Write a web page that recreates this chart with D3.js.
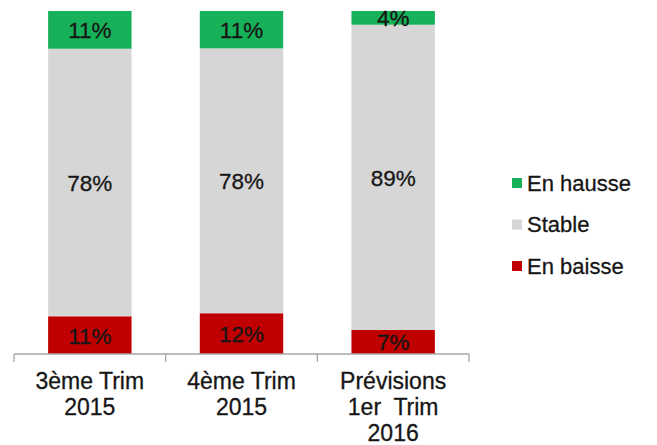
<!DOCTYPE html>
<html>
<head>
<meta charset="utf-8">
<script src="https://cdn.jsdelivr.net/npm/d3@7"></script>
<style>
  html, body { margin: 0; padding: 0; background: #fff; }
  svg { display: block; font-family: "Liberation Sans", Arial, sans-serif; }
</style>
</head>
<body>
<svg id="chart" width="657" height="445"></svg>
<script>
const categories = [["3ème Trim", "2015"], ["4ème Trim", "2015"], ["Prévisions", "1er  Trim", "2016"]];
const seriesNames = ["En baisse", "Stable", "En hausse"];
const enBaisse = [11, 12, 7];
const stable = [78, 78, 89];
const enHausse = [11, 11, 4];
const legendOrder = ["En hausse", "Stable", "En baisse"];
const colors = {"En hausse": "#16b158", "Stable": "#d6d6d6", "En baisse": "#c00000"};

const svg = d3.select("#chart");
const catKeys = categories.map(c => c.join(" "));
const rows = catKeys.map((k, i) => ({cat: k, "En baisse": enBaisse[i], "Stable": stable[i], "En hausse": enHausse[i]}));

const x = d3.scaleBand().domain(catKeys).range([14, 469]).paddingInner(0.45).paddingOuter(0.225);
const y = d3.scaleLinear().domain([0, 1]).range([354, 11]);

const stack = d3.stack().keys(seriesNames).offset(d3.stackOffsetExpand);
const layers = stack(rows);

const g = svg.append("g");
layers.forEach(layer => {
  const key = layer.key;
  const lg = g.append("g");
  lg.selectAll("rect").data(layer).join("rect")
    .attr("x", d => x(d.data.cat))
    .attr("width", x.bandwidth())
    .attr("y", d => y(d[1]))
    .attr("height", d => y(d[0]) - y(d[1]))
    .attr("fill", colors[key]);
  lg.selectAll("text").data(layer).join("text")
    .attr("x", d => x(d.data.cat) + x.bandwidth() / 2)
    .attr("y", d => (y(d[0]) + y(d[1])) / 2 + 1)
    .attr("text-anchor", "middle")
    .attr("dominant-baseline", "central")
    .attr("font-size", 22.5)
    .attr("fill", "#161616")
    .attr("stroke", "#161616").attr("stroke-width", 0.3)
    .text(d => d.data[key] + "%");
});

// axis
const axisY = y(0);
const ax = svg.append("g").attr("stroke", "#a6a6a6").attr("stroke-width", 1.3);
ax.append("line").attr("x1", x.range()[0]).attr("x2", x.range()[1]).attr("y1", axisY).attr("y2", axisY);
d3.range(catKeys.length + 1).forEach(i => {
  const tx = x.range()[0] + i * x.step();
  ax.append("line").attr("x1", tx).attr("x2", tx).attr("y1", axisY).attr("y2", axisY + 8);
});

// category labels
categories.forEach((lines, i) => {
  const cx = x(catKeys[i]) + x.bandwidth() / 2;
  const t = svg.append("text").attr("text-anchor", "middle").attr("font-size", 23).attr("fill", "#161616")
    .attr("stroke", "#161616").attr("stroke-width", 0.3);
  lines.forEach((ln, j) => {
    t.append("tspan").attr("x", cx).attr("y", 389 + j * 26).attr("xml:space", "preserve").text(ln);
  });
});

// legend
const leg = svg.append("g");
legendOrder.forEach((name, i) => {
  const cy = 183 + i * 41.5;
  leg.append("rect").attr("x", 512).attr("y", cy - 5).attr("width", 10).attr("height", 10).attr("fill", colors[name]);
  leg.append("text").attr("x", 527).attr("y", cy).attr("dominant-baseline", "central")
    .attr("font-size", 22).attr("fill", "#161616")
    .attr("stroke", "#161616").attr("stroke-width", 0.3).text(name);
});
</script>
</body>
</html>
